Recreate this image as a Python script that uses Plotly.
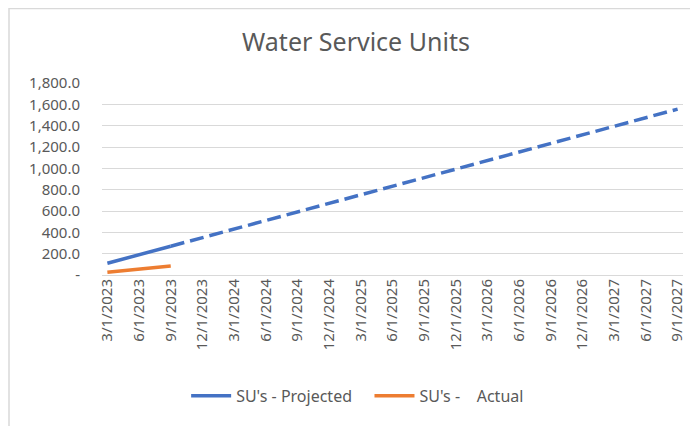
import plotly.graph_objects as go

dates = ["3/1/2023", "6/1/2023", "9/1/2023", "12/1/2023", "3/1/2024", "6/1/2024",
         "9/1/2024", "12/1/2024", "3/1/2025", "6/1/2025", "9/1/2025", "12/1/2025",
         "3/1/2026", "6/1/2026", "9/1/2026", "12/1/2026", "3/1/2027", "6/1/2027",
         "9/1/2027"]
projected = [110, 190, 270, 350, 430, 510, 590, 670, 750, 830, 910, 990,
             1070, 1150, 1230, 1310, 1390, 1470, 1555]
actual = [25, 55, 85]
y_ticks = [0, 200, 400, 600, 800, 1000, 1200, 1400, 1600, 1800]
y_labels = ["-", "200.0", "400.0", "600.0", "800.0", "1,000.0", "1,200.0",
            "1,400.0", "1,600.0", "1,800.0"]

blue = "#4472C4"
orange = "#ED7D31"
grey = "#595959"
font = "Noto Sans"

# page body has an 8px margin, so the figure is drawn 8px smaller and offset
W, H = 690, 418
L, T = 94, 75
plot_w, plot_h = 581, 192

fig = go.Figure()
# solid part of projection (shown in legend)
fig.add_trace(go.Scatter(x=dates[:3], y=projected[:3], mode="lines",
                         name="SU's - Projected   ",
                         line=dict(color=blue, width=3.5)))
# dashed continuation
fig.add_trace(go.Scatter(x=dates[2:], y=projected[2:], mode="lines",
                         showlegend=False,
                         line=dict(color=blue, width=3.5, dash="14px,6px")))
fig.add_trace(go.Scatter(x=dates[:len(actual)], y=actual, mode="lines",
                         name="SU's -    Actual",
                         line=dict(color=orange, width=3.5)))

fig.update_layout(
    width=W, height=H,
    margin=dict(l=L, r=W - L - plot_w, t=T, b=H - T - plot_h, autoexpand=False),
    paper_bgcolor="white", plot_bgcolor="white",
    font=dict(family=font, color=grey, size=15),
    title=dict(text="Water Service Units", x=348 / W, xanchor="center",
               y=1 - 34 / H, yanchor="middle",
               font=dict(family=font, size=25, color=grey)),
    legend=dict(orientation="h", x=0.44, xanchor="center", y=-0.63,
                yanchor="middle", font=dict(size=16, color=grey),
                itemwidth=40, traceorder="normal"),
    xaxis=dict(type="category", categoryorder="array", categoryarray=dates,
               range=[-0.17, 18.17], tickangle=-90, showgrid=False,
               showline=False, ticks="", automargin=False,
               tickfont=dict(size=15, color=grey)),
    yaxis=dict(range=[0, 1800], tickvals=y_ticks, ticktext=y_labels,
               gridcolor="#d9d9d9", gridwidth=1, zeroline=True,
               zerolinecolor="#d9d9d9", zerolinewidth=1, showline=False,
               ticks="", ticklabelstandoff=21, automargin=False,
               tickfont=dict(size=15, color=grey)),
    shapes=[dict(type="rect", xref="paper", yref="paper",
                 x0=(1 - L) / plot_w, x1=(W + 30 - L) / plot_w,
                 y0=(T + plot_h - H - 30) / plot_h, y1=(T + plot_h - 0.5) / plot_h,
                 line=dict(color="#d9d9d9", width=1.5), layer="below")],
)

fig.write_html("out.html")
